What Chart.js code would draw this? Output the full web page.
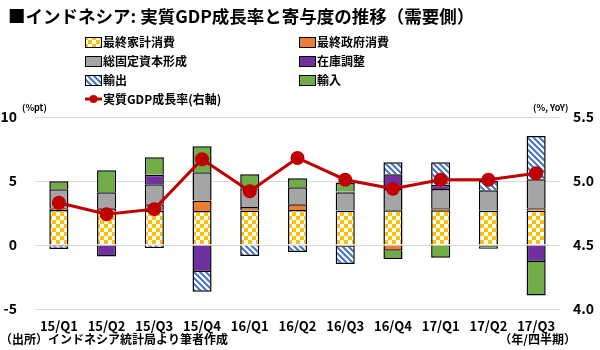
<!DOCTYPE html>
<html>
<head>
<meta charset="utf-8">
<script src="https://cdn.jsdelivr.net/npm/chart.js@4.4.0/dist/chart.umd.min.js"></script>
<style>
  html, body { margin: 0; padding: 0; background: #fff; }
  #wrap { width: 600px; height: 350px; position: relative; }
</style>
</head>
<body>
<div id="wrap"><canvas id="gdpChart" width="600" height="350"></canvas></div>
<script>
const categories = ['15/Q1', '15/Q2', '15/Q3', '15/Q4', '16/Q1', '16/Q2', '16/Q3', '16/Q4', '17/Q1', '17/Q2', '17/Q3'];
const household  = [2.73, 2.62, 2.67, 2.65, 2.70, 2.73, 2.67, 2.72, 2.72, 2.67, 2.67];
const government = [0.15, 0.26, 0.52, 0.82, 0.26, 0.46, -0.15, -0.44, 0.16, -0.13, 0.21];
const gfcf       = [1.48, 1.25, 1.56, 2.22, 1.48, 1.33, 1.46, 1.66, 1.50, 1.61, 2.26];
const inventory  = [-0.10, -0.89, 0.73, -2.10, 0, 0, 0.05, 1.15, 0.32, 0, -1.32];
const exportsC   = [-0.21, 0, -0.24, -1.56, -0.86, -0.55, -1.33, 0.93, 1.76, 0.72, 3.37];
const importsC   = [0.62, 1.71, 1.37, 2.02, 1.09, 0.70, 0.70, -0.65, -0.99, -0.17, -2.63];
const gdpGrowth  = [4.83, 4.74, 4.78, 5.17, 4.92, 5.18, 5.01, 4.94, 5.01, 5.01, 5.06];
const leftTicks  = [-5, 0, 5, 10];
const rightTicks = [4.0, 4.5, 5.0, 5.5];

const FONT = '"Noto Sans CJK JP", "Noto Sans", sans-serif';

// 市松模様（家計消費）
function checkerPattern(ctx) {
    const c = document.createElement('canvas');
    c.width = 8; c.height = 8;
    const g = c.getContext('2d');
    g.fillStyle = '#ffffff';
    g.fillRect(0, 0, 8, 8);
    g.fillStyle = '#ffc000';
    g.fillRect(0, 0, 4, 4);
    g.fillRect(4, 4, 4, 4);
    return ctx.createPattern(c, 'repeat');
}

// 斜線（輸出）
function hatchPattern(ctx) {
    const s = 6;
    const c = document.createElement('canvas');
    c.width = s; c.height = s;
    const g = c.getContext('2d');
    g.fillStyle = '#ffffff';
    g.fillRect(0, 0, s, s);
    g.strokeStyle = '#4472c4';
    g.lineWidth = 2;
    g.beginPath();
    g.moveTo(-1, -1); g.lineTo(s + 1, s + 1);
    g.moveTo(-1, s - 1); g.lineTo(1, s + 1);
    g.moveTo(s - 1, -1); g.lineTo(s + 1, 1);
    g.stroke();
    return ctx.createPattern(c, 'repeat');
}

const canvas = document.getElementById('gdpChart');
const ctx = canvas.getContext('2d');

function barSet(label, data, fill) {
    return {
        type: 'bar',
        label: label,
        data: data,
        backgroundColor: fill,
        borderColor: '#000000',
        borderWidth: 1.5,
        yAxisID: 'y',
        stack: 'contrib',
        order: 1,
        barPercentage: 0.4,
        categoryPercentage: 1.0
    };
}

// 凡例の位置（2列）
const legendSlots = [
    { x: 85, y: 42 }, { x: 299, y: 42 },
    { x: 85, y: 61 }, { x: 299, y: 61 },
    { x: 85, y: 80 }, { x: 299, y: 80 },
    { x: 85, y: 99 }
];

const decorPlugin = {
    id: 'decor',
    afterDraw(chart) {
        const c = chart.ctx;
        c.save();
        c.fillStyle = '#000';
        c.textBaseline = 'middle';
        c.textAlign = 'left';
        c.font = 'bold 17.5px ' + FONT;
        c.fillText('■インドネシア: 実質GDP成長率と寄与度の推移（需要側）', 8, 16);

        c.font = 'bold 12px ' + FONT;
        chart.data.datasets.forEach(function(ds, i) {
            const p = legendSlots[i];
            if (!p) return;
            if (ds.type === 'line') {
                c.strokeStyle = ds.borderColor;
                c.lineWidth = 3;
                c.beginPath();
                c.moveTo(p.x, p.y); c.lineTo(p.x + 17, p.y);
                c.stroke();
                c.fillStyle = ds.pointBackgroundColor;
                c.beginPath();
                c.arc(p.x + 8.5, p.y, 4, 0, Math.PI * 2);
                c.fill();
            } else {
                c.fillStyle = ds.backgroundColor;
                c.fillRect(p.x, p.y - 5, 16, 10);
                c.strokeStyle = '#000';
                c.lineWidth = 1;
                c.strokeRect(p.x + 0.5, p.y - 4.5, 16, 10);
            }
            c.fillStyle = '#000';
            c.fillText(ds.label, p.x + 18, p.y);
        });

        c.font = 'bold 9px ' + FONT;
        c.fillText('(%pt)', 22, 108);
        c.fillText('(%, YoY)', 533, 108);

        c.font = 'bold 12px ' + FONT;
        c.fillText('（出所）インドネシア統計局より筆者作成', 0, 339);
        c.textAlign = 'right';
        c.fillText('（年/四半期）', 576, 339);
        c.restore();
    }
};

new Chart(ctx, {
    data: {
        labels: categories,
        datasets: [
            barSet('最終家計消費', household, checkerPattern(ctx)),
            barSet('最終政府消費', government, '#ed7d31'),
            barSet('総固定資本形成', gfcf, '#a5a5a5'),
            barSet('在庫調整', inventory, '#7030a0'),
            barSet('輸出', exportsC, hatchPattern(ctx)),
            barSet('輸入', importsC, '#70ad47'),
            {
                type: 'line',
                label: '実質GDP成長率(右軸)',
                data: gdpGrowth,
                yAxisID: 'y1',
                borderColor: '#c00000',
                backgroundColor: '#c00000',
                pointBackgroundColor: '#c00000',
                pointBorderColor: '#c00000',
                borderWidth: 3,
                pointRadius: 5.5,
                tension: 0,
                order: 0
            }
        ]
    },
    options: {
        responsive: false,
        animation: false,
        layout: { padding: { top: 117, bottom: 0, left: 0, right: 0 } },
        plugins: {
            legend: { display: false },
            title: { display: false },
            tooltip: { enabled: false }
        },
        scales: {
            x: {
                stacked: true,
                grid: { display: false, drawTicks: false },
                border: { display: false },
                ticks: {
                    color: '#000',
                    padding: 9,
                    maxRotation: 0,
                    font: { family: FONT, size: 13, weight: 'bold' }
                },
                afterFit: function(scale) { scale.height = 41; }
            },
            y: {
                stacked: true,
                position: 'left',
                min: leftTicks[0],
                max: leftTicks[leftTicks.length - 1],
                afterBuildTicks: function(scale) {
                    scale.ticks = leftTicks.map(v => ({ value: v }));
                },
                grid: { color: '#d9d9d9', lineWidth: 1, drawTicks: false },
                border: { display: false },
                ticks: {
                    color: '#000',
                    padding: 18,
                    font: { family: FONT, size: 14, weight: 'bold' }
                },
                afterFit: function(scale) { scale.width = 35; }
            },
            y1: {
                stacked: false,
                position: 'right',
                min: rightTicks[0],
                max: rightTicks[rightTicks.length - 1],
                afterBuildTicks: function(scale) {
                    scale.ticks = rightTicks.map(v => ({ value: v }));
                },
                grid: { display: false, drawTicks: false },
                border: { display: false },
                ticks: {
                    color: '#000',
                    padding: 13,
                    font: { family: FONT, size: 14, weight: 'bold' },
                    callback: function(value) { return Number(value).toFixed(1); }
                },
                afterFit: function(scale) { scale.width = 40; }
            }
        }
    },
    plugins: [decorPlugin]
});
</script>
</body>
</html>
